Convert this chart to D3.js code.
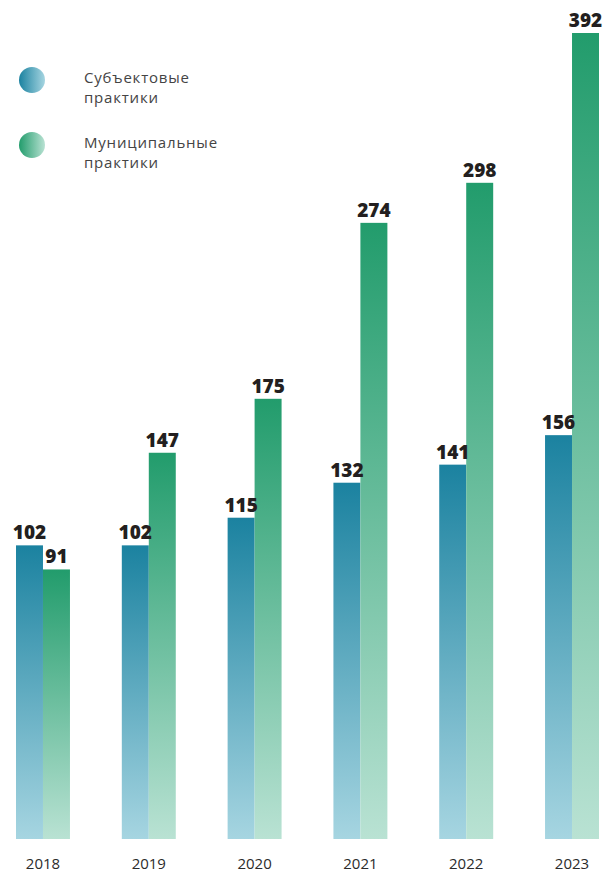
<!DOCTYPE html>
<html>
<head>
<meta charset="utf-8">
<script src="https://cdn.jsdelivr.net/npm/d3@7"></script>
<style>
  body { margin: 0; background: #fff; }
  text { font-family: "Open Sans", "DejaVu Sans", sans-serif; }
</style>
</head>
<body>
<div id="chart"></div>
<script>
const years = ['2018', '2019', '2020', '2021', '2022', '2023'];
const seriesNames = [['Субъектовые', 'практики'], ['Муниципальные', 'практики']];
const regional = [102, 102, 115, 132, 141, 156];
const municipal = [91, 147, 175, 274, 298, 392];

const width = 610;
const height = 872;
const margin = {top: 33, left: 16, bottom: 33, right: 11};
const baseline = height - margin.bottom;

const data = years.map((y, i) => ({year: y, values: [regional[i], municipal[i]]}));

const svg = d3.select('#chart').append('svg')
  .attr('width', width)
  .attr('height', height);

const defs = svg.append('defs');
const grads = [
  {id: 'gBlue', top: '#1b82a0', bottom: '#a6d5e1'},
  {id: 'gGreen', top: '#229c6c', bottom: '#b9e2d3'}
];
grads.forEach(g => {
  const lg = defs.append('linearGradient').attr('id', g.id)
    .attr('x1', 0).attr('y1', 0).attr('x2', 0).attr('y2', 1);
  lg.append('stop').attr('offset', '0%').attr('stop-color', g.top);
  lg.append('stop').attr('offset', '100%').attr('stop-color', g.bottom);
  const lh = defs.append('linearGradient').attr('id', g.id + 'H')
    .attr('x1', 0).attr('y1', 0).attr('x2', 1).attr('y2', 0);
  lh.append('stop').attr('offset', '0%').attr('stop-color', g.top);
  lh.append('stop').attr('offset', '100%').attr('stop-color', g.bottom);
});

const x = d3.scaleBand()
  .domain(years)
  .range([margin.left, width - margin.right])
  .paddingInner(0.49)
  .paddingOuter(0);

const xSub = d3.scaleBand()
  .domain([0, 1])
  .range([0, x.bandwidth()]);

// bar heights in the source are not proportional; a power scale follows them closer
const y = d3.scalePow().exponent(0.75)
  .domain([0, d3.max(municipal)])
  .range([baseline, margin.top]);

const groups = svg.append('g').selectAll('g').data(data).enter().append('g')
  .attr('transform', d => `translate(${x(d.year)},0)`);

groups.selectAll('rect').data(d => d.values).enter().append('rect')
  .attr('x', (d, i) => xSub(i))
  .attr('y', d => y(d))
  .attr('width', xSub.bandwidth())
  .attr('height', d => baseline - y(d))
  .attr('fill', (d, i) => `url(#${grads[i].id})`);

groups.selectAll('text.val').data(d => d.values).enter().append('text')
  .attr('class', 'val')
  .attr('x', (d, i) => xSub(i) + xSub.bandwidth() / 2)
  .attr('y', d => y(d) - 6)
  .attr('text-anchor', 'middle')
  .attr('font-size', 19)
  .attr('font-weight', 800)
  .attr('fill', '#231f20')
  .text(d => d);

// year labels
svg.append('g').selectAll('text').data(years).enter().append('text')
  .attr('x', d => x(d) + x.bandwidth() / 2)
  .attr('y', 869)
  .attr('text-anchor', 'middle')
  .attr('font-size', 15)
  .attr('fill', '#2b2b2b')
  .text(d => d);

// legend
const legend = svg.append('g').selectAll('g').data(seriesNames).enter().append('g')
  .attr('transform', (d, i) => `translate(32,${80 + i * 65})`);
legend.append('circle')
  .attr('r', 13)
  .attr('fill', (d, i) => `url(#${grads[i].id}H)`);
legend.selectAll('text').data(d => d).enter().append('text')
  .attr('x', 52)
  .attr('y', (d, i) => 3 + i * 20)
  .attr('font-size', 15)
  .attr('letter-spacing', 0.8)
  .attr('fill', '#444')
  .text(d => d);
</script>
</body>
</html>
